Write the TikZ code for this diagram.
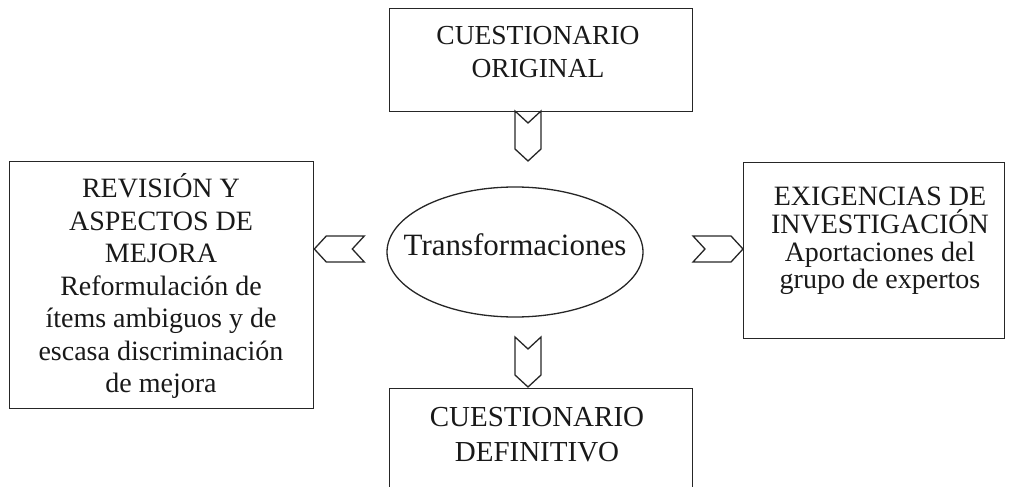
\documentclass[tikz,border=0pt]{standalone}
\usepackage{fontspec}
\setmainfont{Liberation Serif}
\usetikzlibrary{shapes.geometric}
\begin{document}
\begin{tikzpicture}[x=1pt,y=-1pt,
  box/.style={draw=black!85, line width=1.3pt, rectangle, inner sep=0pt, anchor=north west},
  txt/.style={align=center, inner sep=0pt, text=black!90},
  oval/.style={draw=black!85, line width=1.3pt, ellipse, inner sep=0pt},
  chevron/.pic={\draw[draw=black!85, line width=1.3pt, line join=miter]
     (0,0) -- (-12,13) -- (-50,13) -- (-38,0) -- (-50,-13) -- (-12,-13) -- cycle;}
]
\useasboundingbox (0,0) rectangle (1009,487);
% boxes
\node[box, minimum width=303pt, minimum height=103pt] (orig) at (389,8) {};
\node[box, minimum width=304pt, minimum height=247pt] (rev) at (9,161) {};
\node[box, minimum width=261pt, minimum height=176pt] (exig) at (743,162) {};
\node[box, minimum width=303pt, minimum height=130pt] (def) at (389,388) {};
\node[oval, minimum width=256pt, minimum height=130pt] (trans) at (515,252) {};
% texts
\node[txt, font=\fontsize{27.5}{33}\selectfont] (origtext) at (538,52.5) {CUESTIONARIO\\ORIGINAL};
\node[txt, font=\fontsize{28}{32.5}\selectfont] (revtext) at (161,286) {REVISIÓN Y\\ASPECTOS DE\\MEJORA\\Reformulación de\\ítems ambiguos y de\\escasa discriminación\\de mejora};
\node[txt, font=\fontsize{28}{27.7}\selectfont] (exigtext) at (880,241) {EXIGENCIAS DE\\INVESTIGACIÓN\\Aportaciones del\\grupo de expertos};
\node[txt, font=\fontsize{29}{35}\selectfont] (deftext) at (537,435) {CUESTIONARIO\\DEFINITIVO};
\node[txt, font=\fontsize{31}{36}\selectfont, anchor=base] (transtext) at (515,255) {Transformaciones};
% chevron connectors
\coordinate (c1) at (528,161);
\coordinate (c2) at (528,387);
\coordinate (c3) at (rev.east |- 0,249);
\coordinate (c4) at (exig.west |- 0,249);
\path (c1) pic[rotate=-90] {chevron};
\path (c2) pic[rotate=-90] {chevron};
\path (c3) pic[rotate=180] {chevron};
\path (c4) pic {chevron};
\end{tikzpicture}
\end{document}
